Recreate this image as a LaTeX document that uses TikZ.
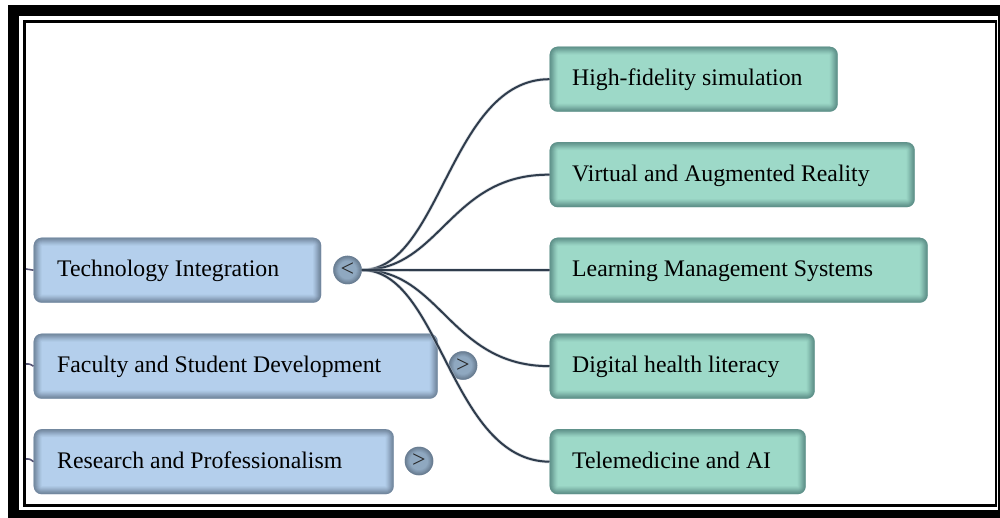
\documentclass[tikz,border=0pt]{standalone}
\usepackage{fontspec}
\setmainfont{Liberation Serif}
\definecolor{bluefill}{HTML}{B4CFEC}
\definecolor{greenfill}{HTML}{9DD9C8}
\definecolor{blueedge}{HTML}{5A6C80}
\definecolor{greenedge}{HTML}{4A7674}
\definecolor{circfill}{HTML}{8FA8C0}
\definecolor{wire}{HTML}{2F3C4C}
\definecolor{stub}{HTML}{4A4A72}
\tikzset{
  x=1pt,y=-1pt,
  insetglow/.style={path picture={
    \foreach \w/\o in {16/.07,14/.08,12/.10,10/.12,8/.15,6/.18,4/.2,2/.2}{
      \draw[#1,line width=\w pt,opacity=\o,rounded corners=8pt]
        (path picture bounding box.south west) rectangle (path picture bounding box.north east);
    }}},
  panel/.style={rectangle,rounded corners=8pt,anchor=north west,inner ysep=0pt,
    minimum height=65pt,align=flush left,text height=16.2pt,text depth=3.5pt,
    font=\fontsize{23.76}{27}\selectfont,text=black},
  bluebox/.style={panel,inner xsep=23.5pt,fill=bluefill,insetglow=blueedge},
  greenbox/.style={panel,inner xsep=22.5pt,fill=greenfill,insetglow=greenedge},
  toggle/.style={circle,minimum size=28.5pt,inner sep=0pt,fill=circfill,
    font=\fontsize{24}{24}\selectfont,text=black!85,
    path picture={\foreach \w/\o in {10/.12,8/.15,6/.2,4/.25,2/.3}{
      \draw[blueedge,line width=\w pt,opacity=\o]
        (path picture bounding box.center) circle (14.25pt);}}},
  halo/.style={draw=white!60!blueedge,line width=3.4pt,opacity=.5},
  wireline/.style={draw=wire,line width=2pt},
  stubline/.style={draw=stub!80!gray,line width=1.6pt}
}
\newcommand{\linkcurve}[3]{%
  \draw[halo] (#1.east) .. controls +(79,0) and (450,#3) .. (#2.west);
  \draw[wireline] (#1.east) .. controls +(79,0) and (450,#3) .. (#2.west);}
\begin{document}
\begin{tikzpicture}
\useasboundingbox (0,0) rectangle (1000,518);
\fill[white] (0,0) rectangle (1000,518);
\fill[black] (8,5) rectangle (1000,518);
\fill[white] (19,16) rectangle (998,510);
\fill[black] (23,20) rectangle (997,507);
\fill[white] (26,23) rectangle (995,504);

\coordinate (s1) at (26,269);
\coordinate (s2) at (26,364);
\coordinate (s3) at (26,459);

\node[bluebox,minimum width=287.5pt,text width=240.5pt] (tech) at (33.5,237.5) {Technology Integration};
\node[bluebox,minimum width=404pt,text width=357pt] (fac) at (33.5,333.5) {Faculty and Student Development};
\node[bluebox,minimum width=360pt,text width=313pt] (res) at (33.5,429) {Research and Professionalism};

\node[greenbox,minimum width=288pt,text width=243pt] (g1) at (549.5,46.5) {High-fidelity simulation};
\node[greenbox,minimum width=365pt,text width=320pt] (g2) at (549.5,142) {Virtual and Augmented Reality};
\node[greenbox,minimum width=378pt,text width=333pt] (g3) at (549.5,237.5) {Learning Management Systems};
\node[greenbox,minimum width=265pt,text width=220pt] (g4) at (549.5,333.5) {Digital health literacy};
\node[greenbox,minimum width=256pt,text width=211pt] (g5) at (549.5,429) {Telemedicine and AI};

\node[toggle] (c1) at (347.5,270) {<};
\node[toggle] (c2) at (463,365.5) {>};
\node[toggle] (c3) at (419,461) {>};

\draw[stubline] (s1) .. controls (30,269.5) .. (tech.west);
\draw[stubline] (s2) .. controls (30,364) .. (fac.west);
\draw[stubline] (s3) .. controls (30,459) .. (res.west);

\linkcurve{c1}{g1}{79}
\linkcurve{c1}{g2}{174}
\linkcurve{c1}{g4}{366}
\linkcurve{c1}{g5}{461}
\draw[halo] (c1.east) -- (g3.west);
\draw[wireline] (c1.east) -- (g3.west);
\end{tikzpicture}
\end{document}
